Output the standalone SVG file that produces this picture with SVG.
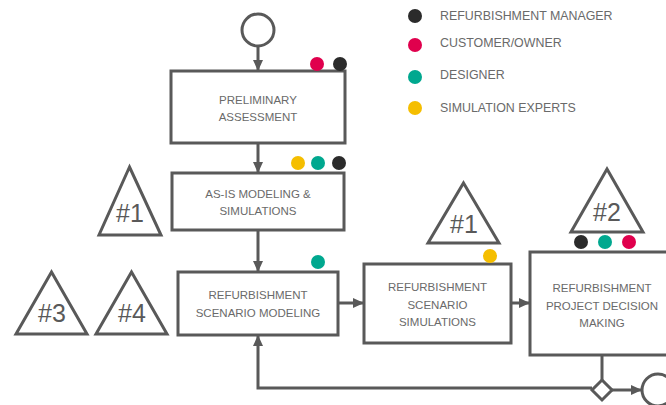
<svg xmlns="http://www.w3.org/2000/svg" width="666" height="405" viewBox="0 0 666 405">
<defs>
<marker id="ah" markerUnits="userSpaceOnUse" markerWidth="12" markerHeight="12" viewBox="0 0 12 12" refX="11" refY="6" orient="auto">
<path d="M0,1 L11,6 L0,11 Z" fill="#595959"/>
</marker>
<style>
.box{fill:#fff;stroke:#595959;stroke-width:3}
.ln{fill:none;stroke:#595959;stroke-width:3}
.t{font-family:"Liberation Sans",Arial,sans-serif;font-size:11.5px;fill:#6a6a6a;text-anchor:middle}
.lg{font-family:"Liberation Sans",Arial,sans-serif;font-size:12.4px;fill:#6a6a6a}
.tri{fill:#fff;stroke:#595959;stroke-width:3;stroke-linejoin:miter}
.tt{font-family:"Liberation Sans",Arial,sans-serif;font-size:25px;fill:#595959;text-anchor:middle}
.k{fill:#2b2b2b}.r{fill:#e0004d}.g{fill:#00a88f}.y{fill:#f5be00}
</style>
</defs>
<rect width="666" height="405" fill="#fff"/>
<g id="connectors">
<line class="ln" x1="258" y1="46" x2="258" y2="71" marker-end="url(#ah)"/>
<line class="ln" x1="258" y1="143" x2="258" y2="173" marker-end="url(#ah)"/>
<line class="ln" x1="258" y1="230" x2="258" y2="272" marker-end="url(#ah)"/>
<line class="ln" x1="338" y1="303" x2="364" y2="303" marker-end="url(#ah)"/>
<line class="ln" x1="511" y1="303" x2="530" y2="303" marker-end="url(#ah)"/>
<line class="ln" x1="602" y1="355" x2="602" y2="380"/>
<path class="ln" d="M592,388 H258 V335" marker-end="url(#ah)"/>
<line class="ln" x1="612" y1="390" x2="642" y2="390" marker-end="url(#ah)"/>
</g>
<g id="start"><circle cx="258" cy="30" r="16" fill="#fff" stroke="#595959" stroke-width="3"/></g>
<g id="end"><circle cx="658" cy="390" r="16" fill="#fff" stroke="#595959" stroke-width="3"/></g>
<g id="gateway"><path d="M602,380 L612,390 L602,400 L592,390 Z" fill="#fff" stroke="#595959" stroke-width="3"/></g>
<g id="box1">
<rect class="box" x="171" y="71" width="174" height="72"/>
<text class="t" x="258" y="104">PRELIMINARY</text>
<text class="t" x="258" y="121">ASSESSMENT</text>
<circle class="r" cx="317" cy="64" r="7"/><circle class="k" cx="340" cy="64" r="7"/>
</g>
<g id="box2">
<rect class="box" x="172" y="173" width="172" height="57"/>
<text class="t" x="258" y="198">AS-IS MODELING &amp;</text>
<text class="t" x="258" y="215">SIMULATIONS</text>
<circle class="y" cx="298" cy="163" r="7"/><circle class="g" cx="318" cy="163" r="7"/><circle class="k" cx="339" cy="163" r="7"/>
</g>
<g id="box3">
<rect class="box" x="178" y="272" width="160" height="63"/>
<text class="t" x="258" y="299">REFURBISHMENT</text>
<text class="t" x="258" y="316.5">SCENARIO MODELING</text>
<circle class="g" cx="318" cy="262" r="7"/>
</g>
<g id="box4">
<rect class="box" x="364" y="264" width="147" height="79"/>
<text class="t" x="437.5" y="291">REFURBISHMENT</text>
<text class="t" x="437.5" y="308.5">SCENARIO</text>
<text class="t" x="437.5" y="326">SIMULATIONS</text>
<circle class="y" cx="490" cy="256" r="7"/>
</g>
<g id="box5">
<rect class="box" x="530" y="252" width="145" height="103"/>
<text class="t" x="602" y="292">REFURBISHMENT</text>
<text class="t" x="602" y="309.5">PROJECT DECISION</text>
<text class="t" x="602" y="327">MAKING</text>
<circle class="k" cx="581" cy="242" r="7"/><circle class="g" cx="605" cy="242" r="7"/><circle class="r" cx="629" cy="242" r="7"/>
</g>
<g id="tri1a"><path class="tri" d="M129.5,167 L161,235 L99,235 Z"/><text class="tt" x="130" y="222">#1</text></g>
<g id="tri3"><path class="tri" d="M51.5,272 L87,334 L16,334 Z"/><text class="tt" x="52" y="322">#3</text></g>
<g id="tri4"><path class="tri" d="M131.5,272 L167,334 L96,334 Z"/><text class="tt" x="132" y="322">#4</text></g>
<g id="tri1b"><path class="tri" d="M463.5,183 L499,243 L428,243 Z"/><text class="tt" x="464" y="233">#1</text></g>
<g id="tri2"><path class="tri" d="M607,169 L643,232 L571,232 Z"/><text class="tt" x="607" y="221">#2</text></g>
<g id="legend">
<circle class="k" cx="415" cy="16" r="7"/><text class="lg" x="440" y="20">REFURBISHMENT MANAGER</text>
<circle class="r" cx="415" cy="45" r="7"/><text class="lg" x="440" y="47">CUSTOMER/OWNER</text>
<circle class="g" cx="415" cy="77" r="7"/><text class="lg" x="440" y="79">DESIGNER</text>
<circle class="y" cx="415" cy="108" r="7"/><text class="lg" x="440" y="112">SIMULATION EXPERTS</text>
</g>
</svg>
